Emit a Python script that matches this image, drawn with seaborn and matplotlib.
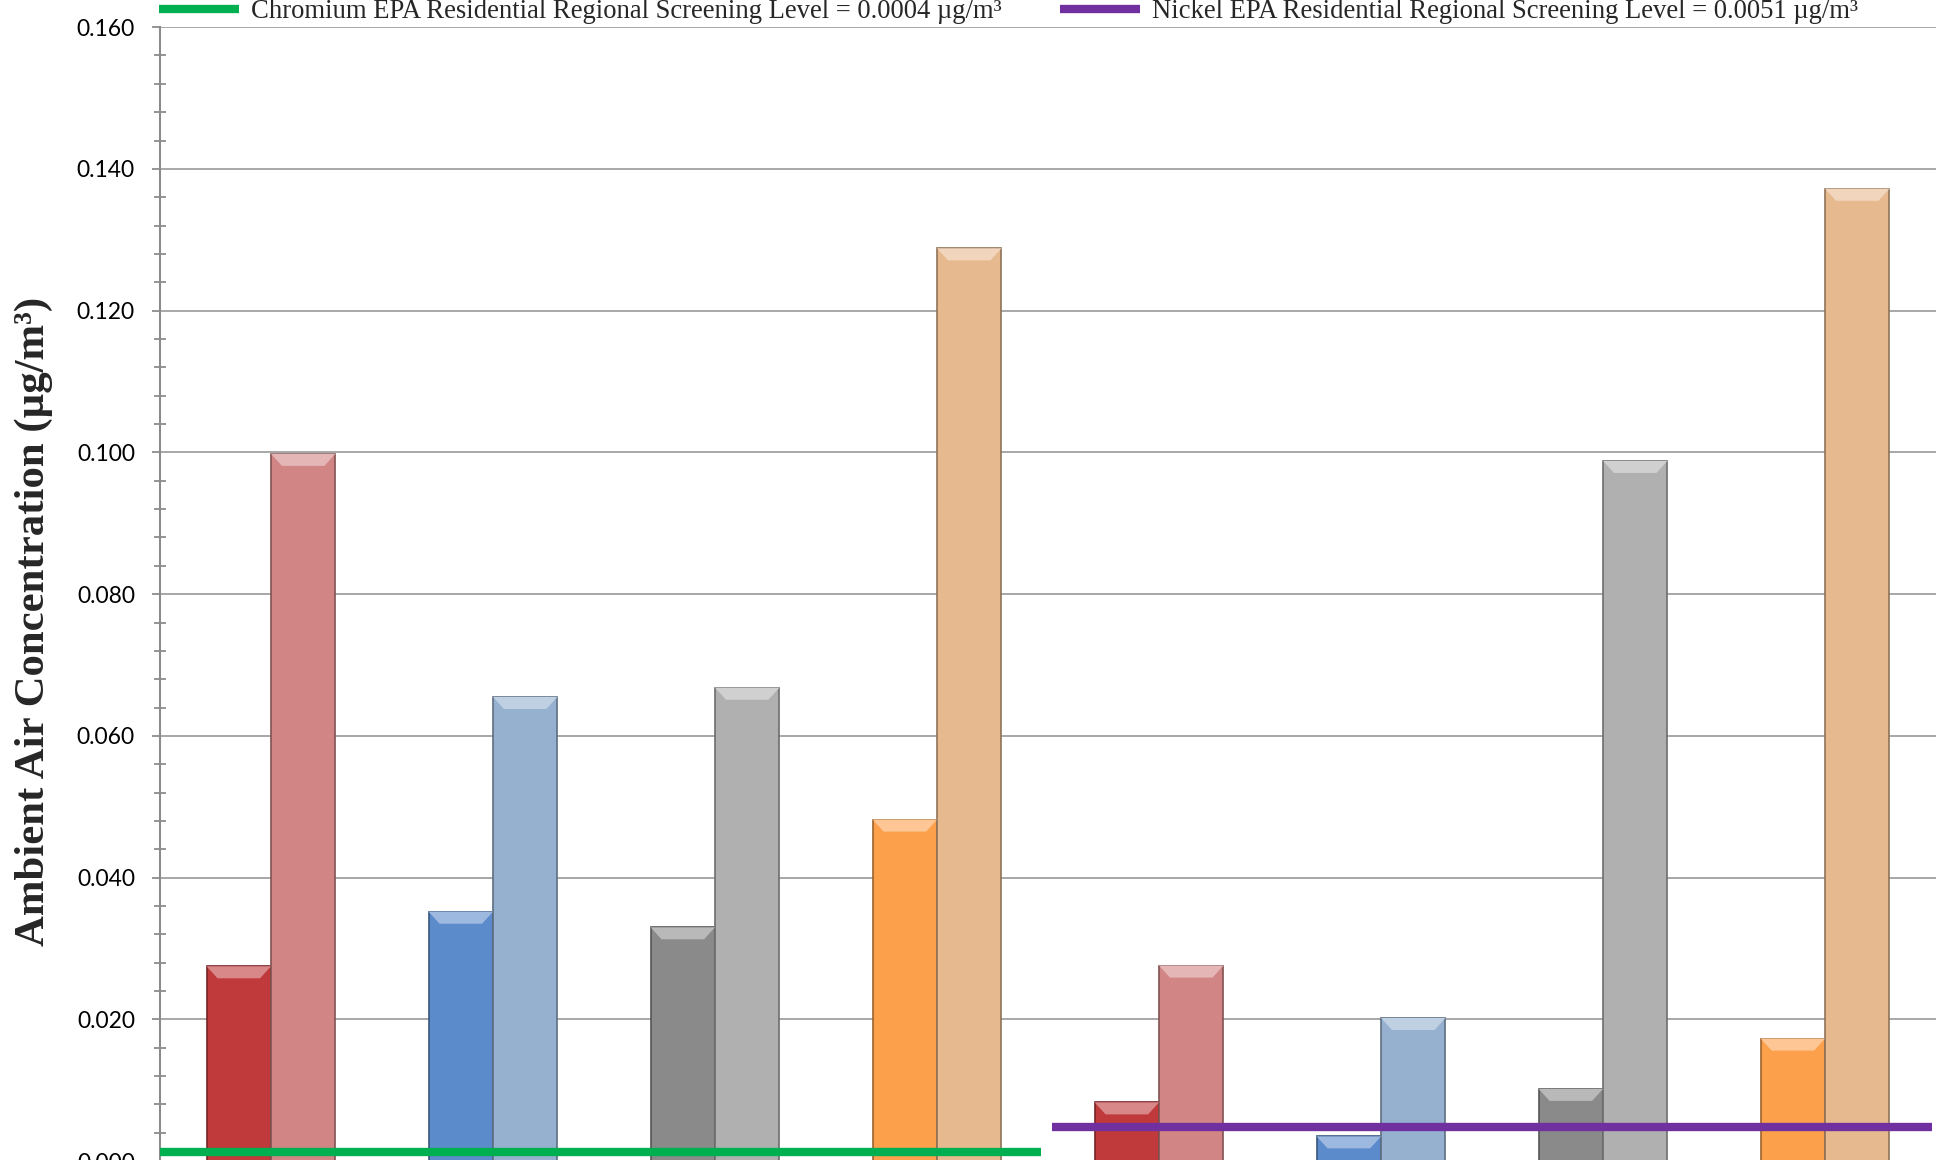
import numpy as np
import pandas as pd
import matplotlib
matplotlib.use("Agg")
import matplotlib.pyplot as plt
import matplotlib.colors as mcolors
from matplotlib.patches import Polygon
import seaborn as sns

# ---------------- data ----------------
sites = ["Cr Site 1", "Cr Site 2", "Cr Site 3", "Cr Site 4",
         "Ni Site 1", "Ni Site 2", "Ni Site 3", "Ni Site 4"]
series = ["Average", "Maximum"]
average_vals = [0.0275, 0.0352, 0.0330, 0.0482, 0.0083, 0.0035, 0.0102, 0.0173]
maximum_vals = [0.0998, 0.0655, 0.0668, 0.1288, 0.0276, 0.0202, 0.0988, 0.1372]
chromium_rsl = 0.0013   # drawn level of the Cr screening line (label: 0.0004)
nickel_rsl = 0.0048     # drawn level of the Ni screening line (label: 0.0051)
yticks = [0.000, 0.020, 0.040, 0.060, 0.080, 0.100, 0.120, 0.140, 0.160]

dark_colors = ["#C0393B", "#5B8BCB", "#8A8A8A", "#FCA04C"] * 2
light_colors = ["#D28585", "#96B1D0", "#B0B0B0", "#E7B98F"] * 2

df = pd.DataFrame({
    "site": sites * 2,
    "series": [series[0]] * len(sites) + [series[1]] * len(sites),
    "value": average_vals + maximum_vals,
})

# ---------------- figure ----------------
sns.set_theme(style="white")
plt.rcParams["font.family"] = ["Lato", "DejaVu Sans"]

fig = plt.figure(figsize=(19.39, 11.60), dpi=100)
ax = fig.add_axes([0.0825, -0.001, 0.916, 0.9776])

sns.barplot(data=df, x="site", y="value", hue="series", order=sites,
            hue_order=series, width=0.58, gap=0, dodge=True,
            errorbar=None, legend=False, ax=ax, zorder=3)


def shade(c, f):
    r, g, b = mcolors.to_rgb(c)
    return (r * f, g * f, b * f)


def tint(c, f):
    r, g, b = mcolors.to_rgb(c)
    return (r + (1 - r) * f, g + (1 - g) * f, b + (1 - b) * f)


bevel_h = 0.0017
for h, cont in enumerate(ax.containers):
    cols = dark_colors if h == 0 else light_colors
    for i, bar in enumerate(cont.patches):
        c = cols[i]
        bar.set_facecolor(c)
        bar.set_edgecolor(shade(c, 0.62))
        bar.set_linewidth(1.2)
        x0 = bar.get_x()
        w = bar.get_width()
        top = bar.get_height()
        inset = w * 0.17
        poly = Polygon([[x0, top], [x0 + w, top],
                        [x0 + w - inset, top - bevel_h],
                        [x0 + inset, top - bevel_h]],
                       closed=True, facecolor=tint(c, 0.4),
                       edgecolor="none", zorder=4)
        ax.add_patch(poly)

# screening level lines
l1, = ax.plot([-0.5, 3.47], [chromium_rsl, chromium_rsl], color="#00B050",
              lw=6, solid_capstyle="butt", zorder=5,
              label="Chromium EPA Residential Regional Screening Level = 0.0004 µg/m³")
l2, = ax.plot([3.52, 7.48], [nickel_rsl, nickel_rsl], color="#7030A0",
              lw=6, solid_capstyle="butt", zorder=5,
              label="Nickel EPA Residential Regional Screening Level = 0.0051 µg/m³")

# axes styling
ax.set_xlim(-0.5, 7.5)
ax.set_ylim(0, 0.16)
ax.set_yticks(yticks)
ax.set_yticklabels([f"{v:.3f}" for v in yticks], fontsize=16.5, color="#000000")
ax.set_yticks(np.arange(0, 0.1601, 0.004), minor=True)
ax.tick_params(axis="y", which="major", direction="out", length=6, width=1.3,
               color="#8C8C8C", left=True, pad=12)
ax.tick_params(axis="y", which="minor", direction="inout", length=9, width=1.3,
               color="#8C8C8C", left=True)
ax.set_xticks(range(len(sites)))
ax.set_xticklabels([""] * len(sites))
ax.tick_params(axis="x", length=0)
ax.yaxis.grid(True, which="major", color="#A0A0A0", lw=1.3, zorder=0)
ax.xaxis.grid(False)
ax.set_axisbelow(True)
for s in ["top", "right"]:
    ax.spines[s].set_visible(False)
ax.spines["left"].set_color("#8C8C8C")
ax.spines["left"].set_linewidth(1.5)
ax.spines["bottom"].set_color("#8C8C8C")
ax.spines["bottom"].set_linewidth(1.5)
ax.set_xlabel("")
ax.set_ylabel("")

fig.text(0.0175, 0.4646, "Ambient Air Concentration (µg/m³)", rotation=90,
         ha="center", va="center", fontsize=30.8, fontweight="bold",
         family=["Liberation Serif", "DejaVu Serif"])

leg = fig.legend(handles=[l1, l2], loc="center left",
                 bbox_to_anchor=(0.082, 0.990), ncol=2, frameon=False,
                 prop={"family": ["Liberation Serif", "DejaVu Serif"], "size": 19.2},
                 handlelength=3.0, handletextpad=0.45, columnspacing=2.2,
                 borderaxespad=0, borderpad=0)

fig.savefig("out.png", dpi=100)
